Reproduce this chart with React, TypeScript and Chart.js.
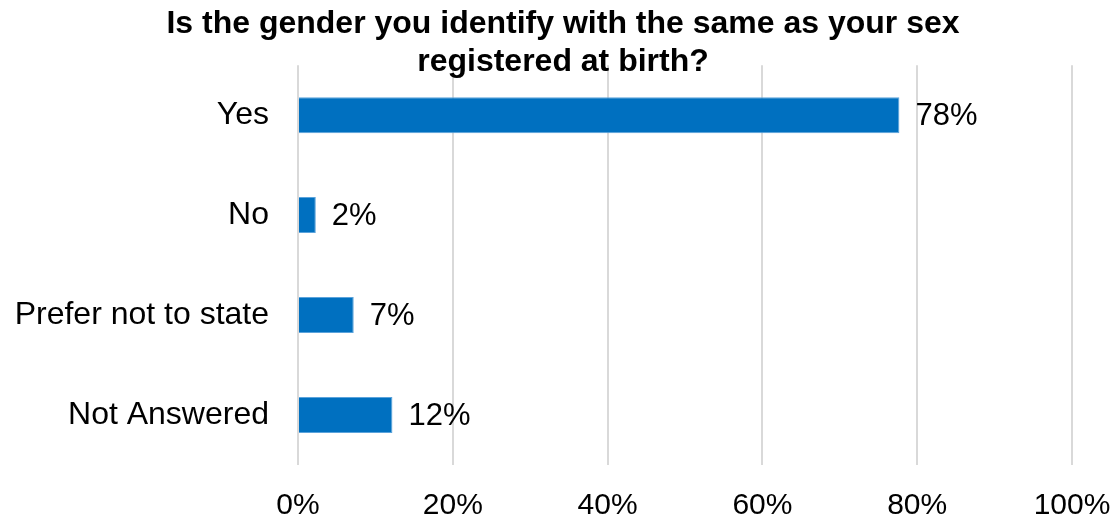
import React, { useEffect, useRef } from "react";
import { Chart, registerables } from "chart.js";

Chart.register(...registerables);

const titleLines = ["Is the gender you identify with the same as your sex", "registered at birth?"];
const categories = ["Yes", "No", "Prefer not to state", "Not Answered"];
const values = [77.7, 2.3, 7.2, 12.2];
const dataLabels = ["78%", "2%", "7%", "12%"];
const xTickValues = [0, 20, 40, 60, 80, 100];

const FONT = "'Liberation Sans', Arial, sans-serif";

const labelPlugin = {
  id: "barLabels",
  afterDatasetsDraw(chart: any) {
    const ctx = chart.ctx;
    const meta = chart.getDatasetMeta(0);
    ctx.save();
    ctx.font = `31px ${FONT}`;
    ctx.fillStyle = "#000";
    ctx.textAlign = "left";
    ctx.textBaseline = "middle";
    meta.data.forEach((bar: any, i: number) => {
      ctx.fillText(dataLabels[i], bar.x + 16, bar.y + 1);
    });
    ctx.restore();
  },
};

export default function App() {
  const ref = useRef<HTMLCanvasElement>(null);
  useEffect(() => {
    document.body.style.margin = "0";
    const chart = new Chart(ref.current!, {
      type: "bar",
      data: {
        labels: categories,
        datasets: [
          {
            data: values,
            backgroundColor: "#0070C0",
            borderColor: "#5BA3DB",
            borderWidth: 1,
            categoryPercentage: 1,
            barPercentage: 0.36,
          },
        ],
      },
      options: {
        indexAxis: "y",
        animation: false,
        responsive: false,
        maintainAspectRatio: false,
        layout: { padding: { left: 10, right: 0, top: 0, bottom: 0 } },
        plugins: {
          legend: { display: false },
          tooltip: { enabled: false },
          title: {
            display: true,
            text: titleLines,
            color: "#000",
            font: { family: FONT, size: 32, weight: "bold", lineHeight: 1.19 },
            padding: { top: 5, bottom: -16 },
          },
        },
        scales: {
          x: {
            min: 0,
            max: 100,
            afterFit: (scale: any) => {
              scale.paddingLeft = 0;
              scale.paddingRight = 44;
              scale.height = 56;
            },
            afterBuildTicks: (scale: any) => {
              scale.ticks = xTickValues.map((v) => ({ value: v }));
            },
            ticks: {
              color: "#000",
              font: { family: FONT, size: 30, lineHeight: 1.0 },
              padding: 26,
              maxRotation: 0,
              callback: (v: any) => v + "%",
            },
            grid: { color: "#D9D9D9", lineWidth: 2, drawTicks: false },
            border: { display: false },
          },
          y: {
            afterFit: (scale: any) => {
              scale.width = 288;
              scale.paddingTop = 0;
              scale.paddingBottom = 0;
            },
            ticks: {
              color: "#000",
              font: { family: FONT, size: 32 },
              padding: 29,
            },
            grid: { display: false, drawTicks: false },
            border: { display: false },
          },
        },
      },
      plugins: [labelPlugin],
    });
    return () => chart.destroy();
  }, []);
  return (
    <div style={{ width: 1116, height: 521 }}>
      <canvas ref={ref} width={1116} height={521} style={{ display: "block" }} />
    </div>
  );
}
